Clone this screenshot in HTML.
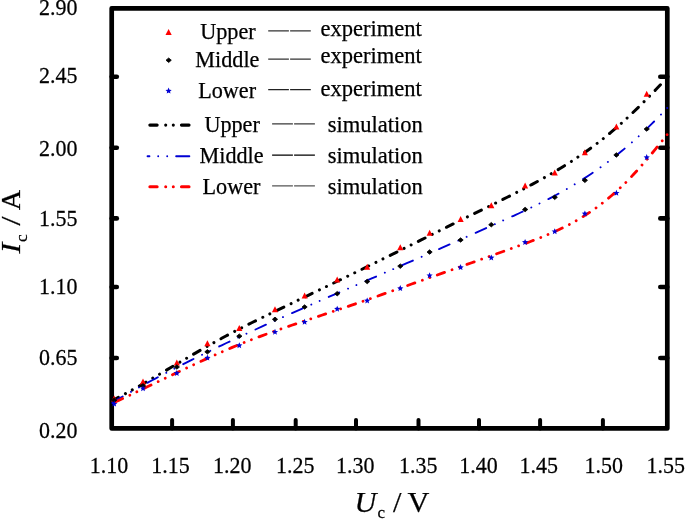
<!DOCTYPE html>
<html><head><meta charset="utf-8"><title>Ic-Uc chart</title>
<style>
html,body{margin:0;padding:0;background:#fff;}
body{width:685px;height:519px;overflow:hidden;}
svg{display:block;will-change:transform;transform:translateZ(0);}
text{font-family:"Liberation Serif",serif;fill:#000;stroke:#000;stroke-width:0.25px;}
</style></head><body>
<svg width="685" height="519" viewBox="0 0 685 519">
<rect width="685" height="519" fill="#fff"/>
<rect x="111.7" y="8.3" width="555.6" height="420.1" fill="none" stroke="#000" stroke-width="4.7" stroke-linejoin="round"/>
<g stroke="#000" stroke-linecap="round" fill="none">
<path d="M111.7 76.7 H116.8" stroke-width="4.6"/>
<path d="M667.3 76.7 H660.3" stroke-width="4.6"/>
<path d="M111.7 147.8 H116.8" stroke-width="4.6"/>
<path d="M667.3 147.8 H660.3" stroke-width="4.6"/>
<path d="M111.7 218.4 H116.8" stroke-width="4.6"/>
<path d="M667.3 218.4 H660.3" stroke-width="4.6"/>
<path d="M111.7 287.0 H116.8" stroke-width="4.6"/>
<path d="M667.3 287.0 H660.3" stroke-width="4.6"/>
<path d="M111.7 358.0 H116.8" stroke-width="4.6"/>
<path d="M667.3 358.0 H660.3" stroke-width="4.6"/>
<path d="M172.1 428.4 V420.0" stroke-width="4.0"/>
<path d="M232.9 428.4 V420.0" stroke-width="4.0"/>
<path d="M295.7 428.4 V420.0" stroke-width="4.0"/>
<path d="M356.0 428.4 V420.0" stroke-width="4.0"/>
<path d="M418.5 428.4 V420.0" stroke-width="4.0"/>
<path d="M479.0 428.4 V420.0" stroke-width="4.0"/>
<path d="M540.1 428.4 V420.0" stroke-width="4.0"/>
<path d="M602.9 428.4 V420.0" stroke-width="4.0"/>
</g>
<g fill="none" stroke-linecap="round" stroke-linejoin="round">
<path d="M111.7 400.91 C113.4 400.04 118.4 397.46 121.7 395.68 C125.0 393.90 128.4 392.07 131.7 390.22 C135.0 388.37 138.4 386.49 141.7 384.58 C145.0 382.67 148.4 380.73 151.7 378.79 C155.0 376.85 158.4 374.88 161.7 372.92 C165.0 370.96 168.4 368.98 171.7 367.01 C175.0 365.04 178.4 363.07 181.7 361.11 C185.0 359.15 188.4 357.19 191.7 355.25 C195.0 353.31 198.4 351.38 201.7 349.47 C205.0 347.56 208.4 345.67 211.7 343.81 C215.0 341.95 218.4 340.11 221.7 338.30 C225.0 336.49 228.4 334.70 231.7 332.95 C235.0 331.19 238.4 329.47 241.7 327.77 C245.0 326.06 248.4 324.39 251.7 322.72 C255.0 321.06 258.4 319.41 261.7 317.78 C265.0 316.15 268.4 314.53 271.7 312.92 C275.0 311.31 278.4 309.71 281.7 308.10 C285.0 306.49 288.4 304.89 291.7 303.28 C295.0 301.67 298.4 300.07 301.7 298.46 C305.0 296.85 308.4 295.25 311.7 293.64 C315.0 292.03 318.4 290.42 321.7 288.81 C325.0 287.20 328.4 285.59 331.7 283.97 C335.0 282.36 338.4 280.74 341.7 279.12 C345.0 277.50 348.4 275.88 351.7 274.25 C355.0 272.62 358.4 271.00 361.7 269.37 C365.0 267.74 368.4 266.12 371.7 264.48 C375.0 262.85 378.4 261.20 381.7 259.56 C385.0 257.92 388.4 256.26 391.7 254.61 C395.0 252.96 398.4 251.30 401.7 249.64 C405.0 247.98 408.4 246.32 411.7 244.66 C415.0 243.00 418.4 241.33 421.7 239.66 C425.0 237.99 428.4 236.32 431.7 234.65 C435.0 232.98 438.4 231.32 441.7 229.66 C445.0 228.00 448.4 226.34 451.7 224.68 C455.0 223.02 458.4 221.37 461.7 219.72 C465.0 218.07 468.4 216.44 471.7 214.80 C475.0 213.16 478.4 211.54 481.7 209.90 C485.0 208.26 488.4 206.62 491.7 204.98 C495.0 203.33 498.4 201.69 501.7 200.03 C505.0 198.37 508.4 196.69 511.7 194.99 C515.0 193.29 518.4 191.59 521.7 189.85 C525.0 188.11 528.4 186.35 531.7 184.56 C535.0 182.77 538.4 180.95 541.7 179.09 C545.0 177.23 548.4 175.35 551.7 173.41 C555.0 171.47 558.4 169.50 561.7 167.46 C565.0 165.42 568.4 163.34 571.7 161.19 C575.0 159.04 578.4 156.83 581.7 154.54 C585.0 152.25 588.4 149.89 591.7 147.44 C595.0 144.99 598.4 142.47 601.7 139.85 C605.0 137.23 608.4 134.51 611.7 131.70 C615.0 128.89 618.4 125.97 621.7 122.98 C625.0 119.99 628.4 116.89 631.7 113.73 C635.0 110.57 638.4 107.31 641.7 104.00 C645.0 100.69 648.3 97.36 651.7 93.89 C655.1 90.42 660.3 84.94 662.0 83.15" stroke="#000" stroke-width="3.0" stroke-dasharray="7.5 8.06 0.01 7.8 0.01 8.06" stroke-dashoffset="0"/>
<path d="M111.7 402.71 C113.4 401.76 118.4 398.88 121.7 397.00 C125.0 395.12 128.4 393.25 131.7 391.40 C135.0 389.55 138.4 387.72 141.7 385.91 C145.0 384.10 148.4 382.31 151.7 380.53 C155.0 378.75 158.4 376.99 161.7 375.24 C165.0 373.49 168.4 371.76 171.7 370.04 C175.0 368.32 178.4 366.62 181.7 364.93 C185.0 363.24 188.4 361.56 191.7 359.90 C195.0 358.24 198.4 356.59 201.7 354.95 C205.0 353.31 208.4 351.69 211.7 350.08 C215.0 348.47 218.4 346.86 221.7 345.27 C225.0 343.68 228.4 342.10 231.7 340.53 C235.0 338.96 238.4 337.41 241.7 335.86 C245.0 334.31 248.4 332.76 251.7 331.23 C255.0 329.70 258.4 328.18 261.7 326.66 C265.0 325.15 268.4 323.64 271.7 322.14 C275.0 320.64 278.4 319.14 281.7 317.65 C285.0 316.16 288.4 314.69 291.7 313.21 C295.0 311.73 298.4 310.26 301.7 308.79 C305.0 307.32 308.4 305.87 311.7 304.41 C315.0 302.95 318.4 301.50 321.7 300.05 C325.0 298.60 328.4 297.14 331.7 295.70 C335.0 294.25 338.4 292.82 341.7 291.38 C345.0 289.94 348.4 288.50 351.7 287.06 C355.0 285.62 358.4 284.19 361.7 282.75 C365.0 281.31 368.4 279.87 371.7 278.43 C375.0 276.99 378.4 275.56 381.7 274.12 C385.0 272.68 388.4 271.23 391.7 269.79 C395.0 268.35 398.4 266.91 401.7 265.46 C405.0 264.01 408.4 262.56 411.7 261.10 C415.0 259.65 418.4 258.19 421.7 256.73 C425.0 255.27 428.4 253.80 431.7 252.33 C435.0 250.86 438.4 249.39 441.7 247.92 C445.0 246.45 448.4 244.97 451.7 243.49 C455.0 242.01 458.4 240.52 461.7 239.04 C465.0 237.56 468.4 236.07 471.7 234.58 C475.0 233.09 478.4 231.59 481.7 230.10 C485.0 228.60 488.4 227.11 491.7 225.61 C495.0 224.11 498.4 222.62 501.7 221.11 C505.0 219.61 508.4 218.10 511.7 216.58 C515.0 215.06 518.4 213.55 521.7 212.00 C525.0 210.45 528.4 208.89 531.7 207.29 C535.0 205.69 538.4 204.07 541.7 202.41 C545.0 200.75 548.4 199.05 551.7 197.30 C555.0 195.55 558.4 193.76 561.7 191.90 C565.0 190.04 568.4 188.14 571.7 186.16 C575.0 184.18 578.4 182.14 581.7 180.03 C585.0 177.92 588.4 175.74 591.7 173.48 C595.0 171.22 598.4 168.90 601.7 166.49 C605.0 164.08 608.4 161.59 611.7 159.02 C615.0 156.45 618.4 153.80 621.7 151.06 C625.0 148.32 628.4 145.49 631.7 142.57 C635.0 139.65 638.4 136.64 641.7 133.54 C645.0 130.44 648.4 127.24 651.7 123.95 C655.0 120.66 659.1 116.49 661.7 113.81 C664.3 111.13 666.4 108.87 667.3 107.88" stroke="#0000d4" stroke-width="1.9" stroke-dasharray="11.5 9.55 0.01 9.1 0.01 9.91" stroke-dashoffset="-1.09"/>
<path d="M111.7 403.57 C113.4 402.80 118.4 400.52 121.7 398.97 C125.0 397.42 128.4 395.84 131.7 394.27 C135.0 392.69 138.4 391.11 141.7 389.52 C145.0 387.93 148.4 386.32 151.7 384.72 C155.0 383.12 158.4 381.51 161.7 379.91 C165.0 378.31 168.4 376.71 171.7 375.11 C175.0 373.51 178.4 371.91 181.7 370.33 C185.0 368.75 188.4 367.16 191.7 365.60 C195.0 364.04 198.4 362.49 201.7 360.95 C205.0 359.41 208.4 357.89 211.7 356.39 C215.0 354.89 218.4 353.41 221.7 351.96 C225.0 350.50 228.4 349.06 231.7 347.66 C235.0 346.26 238.4 344.89 241.7 343.54 C245.0 342.19 248.4 340.88 251.7 339.59 C255.0 338.30 258.4 337.05 261.7 335.82 C265.0 334.59 268.4 333.38 271.7 332.19 C275.0 331.00 278.4 329.84 281.7 328.68 C285.0 327.52 288.4 326.38 291.7 325.25 C295.0 324.12 298.4 323.00 301.7 321.89 C305.0 320.78 308.4 319.68 311.7 318.57 C315.0 317.46 318.4 316.36 321.7 315.25 C325.0 314.14 328.4 313.04 331.7 311.92 C335.0 310.80 338.4 309.68 341.7 308.55 C345.0 307.42 348.4 306.28 351.7 305.13 C355.0 303.98 358.4 302.83 361.7 301.67 C365.0 300.51 368.4 299.35 371.7 298.18 C375.0 297.01 378.4 295.84 381.7 294.67 C385.0 293.50 388.4 292.32 391.7 291.14 C395.0 289.96 398.4 288.77 401.7 287.59 C405.0 286.41 408.4 285.22 411.7 284.04 C415.0 282.86 418.4 281.67 421.7 280.49 C425.0 279.31 428.4 278.12 431.7 276.94 C435.0 275.76 438.4 274.57 441.7 273.39 C445.0 272.21 448.4 271.02 451.7 269.84 C455.0 268.66 458.4 267.48 461.7 266.29 C465.0 265.11 468.4 263.92 471.7 262.73 C475.0 261.54 478.4 260.35 481.7 259.16 C485.0 257.97 488.4 256.78 491.7 255.58 C495.0 254.38 498.4 253.18 501.7 251.98 C505.0 250.78 508.4 249.58 511.7 248.37 C515.0 247.16 518.4 245.95 521.7 244.72 C525.0 243.49 528.4 242.28 531.7 241.01 C535.0 239.74 538.4 238.47 541.7 237.12 C545.0 235.77 548.4 234.39 551.7 232.93 C555.0 231.47 558.4 229.96 561.7 228.34 C565.0 226.72 568.4 225.03 571.7 223.21 C575.0 221.40 578.4 219.49 581.7 217.45 C585.0 215.41 588.4 213.25 591.7 210.96 C595.0 208.67 598.4 206.25 601.7 203.68 C605.0 201.11 608.4 198.40 611.7 195.53 C615.0 192.66 618.4 189.64 621.7 186.45 C625.0 183.26 628.4 179.89 631.7 176.38 C635.0 172.87 638.4 169.18 641.7 165.40 C645.0 161.62 648.4 157.69 651.7 153.69 C655.0 149.69 659.1 144.63 661.7 141.41 C664.3 138.19 666.4 135.54 667.3 134.36" stroke="#f00" stroke-width="2.8" stroke-dasharray="7.7 7.92 0.01 7.8 0.01 8.03" stroke-dashoffset="-4.32"/>
</g>
<g>
<path d="M114.2 395.6 L117.2 401.6 L111.2 401.6 Z" fill="#f00"/>
<path d="M143.0 378.6 L146.1 384.6 L139.9 384.6 Z" fill="#f00"/>
<path d="M176.8 359.5 L179.9 365.5 L173.8 365.5 Z" fill="#f00"/>
<path d="M207.4 340.2 L210.5 346.2 L204.3 346.2 Z" fill="#f00"/>
<path d="M239.3 325.0 L242.4 331.0 L236.2 331.0 Z" fill="#f00"/>
<path d="M275.0 306.2 L278.1 312.2 L271.9 312.2 Z" fill="#f00"/>
<path d="M304.6 292.6 L307.7 298.6 L301.6 298.6 Z" fill="#f00"/>
<path d="M337.2 276.6 L340.2 282.6 L334.1 282.6 Z" fill="#f00"/>
<path d="M367.2 263.8 L370.2 269.8 L364.1 269.8 Z" fill="#f00"/>
<path d="M400.3 244.3 L403.4 250.3 L397.2 250.3 Z" fill="#f00"/>
<path d="M429.6 229.7 L432.7 235.7 L426.6 235.7 Z" fill="#f00"/>
<path d="M460.6 215.9 L463.7 221.9 L457.6 221.9 Z" fill="#f00"/>
<path d="M491.3 202.2 L494.4 208.2 L488.2 208.2 Z" fill="#f00"/>
<path d="M525.1 182.5 L528.1 188.5 L522.1 188.5 Z" fill="#f00"/>
<path d="M554.7 169.5 L557.8 175.5 L551.7 175.5 Z" fill="#f00"/>
<path d="M584.9 149.2 L587.9 155.2 L581.9 155.2 Z" fill="#f00"/>
<path d="M616.4 123.6 L619.4 129.6 L613.4 129.6 Z" fill="#f00"/>
<path d="M646.7 90.7 L649.8 96.7 L643.7 96.7 Z" fill="#f00"/>
<path d="M111.5 400.2 L114.2 397.9 L116.9 400.2 L114.2 402.4 Z" fill="#000" stroke="#000" stroke-width="0.8" stroke-linejoin="round"/>
<path d="M140.3 385.9 L143.0 383.6 L145.7 385.9 L143.0 388.1 Z" fill="#000" stroke="#000" stroke-width="0.8" stroke-linejoin="round"/>
<path d="M174.2 367.0 L176.8 364.8 L179.5 367.0 L176.8 369.2 Z" fill="#000" stroke="#000" stroke-width="0.8" stroke-linejoin="round"/>
<path d="M204.8 351.8 L207.4 349.6 L210.1 351.8 L207.4 354.1 Z" fill="#000" stroke="#000" stroke-width="0.8" stroke-linejoin="round"/>
<path d="M236.7 336.2 L239.3 333.9 L242.0 336.2 L239.3 338.4 Z" fill="#000" stroke="#000" stroke-width="0.8" stroke-linejoin="round"/>
<path d="M272.4 319.3 L275.0 317.1 L277.6 319.3 L275.0 321.6 Z" fill="#000" stroke="#000" stroke-width="0.8" stroke-linejoin="round"/>
<path d="M302.0 307.0 L304.6 304.8 L307.2 307.0 L304.6 309.2 Z" fill="#000" stroke="#000" stroke-width="0.8" stroke-linejoin="round"/>
<path d="M334.6 293.7 L337.2 291.4 L339.8 293.7 L337.2 295.9 Z" fill="#000" stroke="#000" stroke-width="0.8" stroke-linejoin="round"/>
<path d="M364.6 281.5 L367.2 279.2 L369.8 281.5 L367.2 283.8 Z" fill="#000" stroke="#000" stroke-width="0.8" stroke-linejoin="round"/>
<path d="M397.7 266.1 L400.3 263.9 L402.9 266.1 L400.3 268.4 Z" fill="#000" stroke="#000" stroke-width="0.8" stroke-linejoin="round"/>
<path d="M427.0 252.1 L429.6 249.8 L432.2 252.1 L429.6 254.3 Z" fill="#000" stroke="#000" stroke-width="0.8" stroke-linejoin="round"/>
<path d="M458.0 240.0 L460.6 237.8 L463.2 240.0 L460.6 242.2 Z" fill="#000" stroke="#000" stroke-width="0.8" stroke-linejoin="round"/>
<path d="M488.7 224.7 L491.3 222.4 L493.9 224.7 L491.3 226.9 Z" fill="#000" stroke="#000" stroke-width="0.8" stroke-linejoin="round"/>
<path d="M522.5 209.5 L525.1 207.2 L527.8 209.5 L525.1 211.8 Z" fill="#000" stroke="#000" stroke-width="0.8" stroke-linejoin="round"/>
<path d="M552.1 197.3 L554.7 195.1 L557.4 197.3 L554.7 199.6 Z" fill="#000" stroke="#000" stroke-width="0.8" stroke-linejoin="round"/>
<path d="M582.2 180.3 L584.9 178.1 L587.5 180.3 L584.9 182.6 Z" fill="#000" stroke="#000" stroke-width="0.8" stroke-linejoin="round"/>
<path d="M613.8 154.9 L616.4 152.7 L619.0 154.9 L616.4 157.2 Z" fill="#000" stroke="#000" stroke-width="0.8" stroke-linejoin="round"/>
<path d="M644.1 129.0 L646.7 126.8 L649.4 129.0 L646.7 131.2 Z" fill="#000" stroke="#000" stroke-width="0.8" stroke-linejoin="round"/>
<path d="M114.2 400.6 L115.1 402.7 L117.3 402.9 L115.6 404.4 L116.1 406.6 L114.2 405.4 L112.3 406.6 L112.8 404.4 L111.1 402.9 L113.3 402.7 Z" fill="#0000d4"/>
<path d="M143.0 385.3 L143.9 387.4 L146.1 387.6 L144.4 389.1 L144.9 391.3 L143.0 390.1 L141.1 391.3 L141.6 389.1 L139.9 387.6 L142.1 387.4 Z" fill="#0000d4"/>
<path d="M176.8 369.9 L177.7 372.0 L179.9 372.2 L178.2 373.7 L178.7 375.9 L176.8 374.7 L174.9 375.9 L175.4 373.7 L173.7 372.2 L175.9 372.0 Z" fill="#0000d4"/>
<path d="M207.4 354.6 L208.3 356.7 L210.5 356.9 L208.8 358.4 L209.3 360.6 L207.4 359.4 L205.5 360.6 L206.0 358.4 L204.3 356.9 L206.5 356.7 Z" fill="#0000d4"/>
<path d="M239.3 342.2 L240.2 344.3 L242.4 344.5 L240.7 346.0 L241.2 348.2 L239.3 347.0 L237.4 348.2 L237.9 346.0 L236.2 344.5 L238.4 344.3 Z" fill="#0000d4"/>
<path d="M275.0 328.8 L275.9 330.9 L278.1 331.1 L276.4 332.6 L276.9 334.8 L275.0 333.6 L273.1 334.8 L273.6 332.6 L271.9 331.1 L274.1 330.9 Z" fill="#0000d4"/>
<path d="M304.6 318.8 L305.5 320.9 L307.7 321.1 L306.0 322.6 L306.5 324.8 L304.6 323.6 L302.7 324.8 L303.2 322.6 L301.5 321.1 L303.7 320.9 Z" fill="#0000d4"/>
<path d="M337.2 305.7 L338.1 307.8 L340.3 308.0 L338.6 309.5 L339.1 311.7 L337.2 310.5 L335.3 311.7 L335.8 309.5 L334.1 308.0 L336.3 307.8 Z" fill="#0000d4"/>
<path d="M367.2 297.5 L368.1 299.6 L370.3 299.8 L368.6 301.3 L369.1 303.5 L367.2 302.3 L365.3 303.5 L365.8 301.3 L364.1 299.8 L366.3 299.6 Z" fill="#0000d4"/>
<path d="M400.3 285.1 L401.2 287.2 L403.4 287.4 L401.7 288.9 L402.2 291.1 L400.3 289.9 L398.4 291.1 L398.9 288.9 L397.2 287.4 L399.4 287.2 Z" fill="#0000d4"/>
<path d="M429.6 272.3 L430.5 274.4 L432.7 274.6 L431.0 276.1 L431.5 278.3 L429.6 277.1 L427.7 278.3 L428.2 276.1 L426.5 274.6 L428.7 274.4 Z" fill="#0000d4"/>
<path d="M460.6 264.1 L461.5 266.2 L463.7 266.4 L462.0 267.9 L462.5 270.1 L460.6 268.9 L458.7 270.1 L459.2 267.9 L457.5 266.4 L459.7 266.2 Z" fill="#0000d4"/>
<path d="M491.3 254.4 L492.2 256.5 L494.4 256.7 L492.7 258.2 L493.2 260.4 L491.3 259.2 L489.4 260.4 L489.9 258.2 L488.2 256.7 L490.4 256.5 Z" fill="#0000d4"/>
<path d="M525.1 238.9 L526.0 241.0 L528.2 241.2 L526.5 242.7 L527.0 244.9 L525.1 243.7 L523.2 244.9 L523.7 242.7 L522.0 241.2 L524.2 241.0 Z" fill="#0000d4"/>
<path d="M554.7 228.3 L555.6 230.4 L557.8 230.6 L556.1 232.1 L556.6 234.3 L554.7 233.1 L552.8 234.3 L553.3 232.1 L551.6 230.6 L553.8 230.4 Z" fill="#0000d4"/>
<path d="M584.9 210.4 L585.8 212.5 L588.0 212.7 L586.3 214.2 L586.8 216.4 L584.9 215.2 L583.0 216.4 L583.5 214.2 L581.8 212.7 L584.0 212.5 Z" fill="#0000d4"/>
<path d="M616.4 189.8 L617.3 191.9 L619.5 192.1 L617.8 193.6 L618.3 195.8 L616.4 194.6 L614.5 195.8 L615.0 193.6 L613.3 192.1 L615.5 191.9 Z" fill="#0000d4"/>
<path d="M646.7 154.1 L647.6 156.2 L649.8 156.4 L648.1 157.9 L648.6 160.1 L646.7 158.9 L644.8 160.1 L645.3 157.9 L643.6 156.4 L645.8 156.2 Z" fill="#0000d4"/>
</g>
<text transform="translate(77.60,15.20) scale(0.9483,1)" font-size="23.2px" text-anchor="end">2.90</text>
<text transform="translate(77.60,83.20) scale(0.9483,1)" font-size="23.2px" text-anchor="end">2.45</text>
<text transform="translate(77.60,156.20) scale(0.9483,1)" font-size="23.2px" text-anchor="end">2.00</text>
<text transform="translate(77.60,226.20) scale(0.9483,1)" font-size="23.2px" text-anchor="end">1.55</text>
<text transform="translate(77.60,294.10) scale(0.9483,1)" font-size="23.2px" text-anchor="end">1.10</text>
<text transform="translate(77.60,365.20) scale(0.9483,1)" font-size="23.2px" text-anchor="end">0.65</text>
<text transform="translate(77.60,438.20) scale(0.9483,1)" font-size="23.2px" text-anchor="end">0.20</text>
<text transform="translate(108.95,472.80) scale(0.9483,1)" font-size="23.2px" text-anchor="middle">1.10</text>
<text transform="translate(170.50,472.80) scale(0.9483,1)" font-size="23.2px" text-anchor="middle">1.15</text>
<text transform="translate(232.25,472.80) scale(0.9483,1)" font-size="23.2px" text-anchor="middle">1.20</text>
<text transform="translate(295.15,472.80) scale(0.9483,1)" font-size="23.2px" text-anchor="middle">1.25</text>
<text transform="translate(355.35,472.80) scale(0.9483,1)" font-size="23.2px" text-anchor="middle">1.30</text>
<text transform="translate(418.25,472.80) scale(0.9483,1)" font-size="23.2px" text-anchor="middle">1.35</text>
<text transform="translate(478.40,472.80) scale(0.9483,1)" font-size="23.2px" text-anchor="middle">1.40</text>
<text transform="translate(538.85,472.80) scale(0.9483,1)" font-size="23.2px" text-anchor="middle">1.45</text>
<text transform="translate(603.80,472.80) scale(0.9483,1)" font-size="23.2px" text-anchor="middle">1.50</text>
<text transform="translate(665.70,472.80) scale(0.9483,1)" font-size="23.2px" text-anchor="middle">1.55</text>
<text x="354.6" y="511.8" font-size="30.3px" font-style="italic">U</text>
<text transform="translate(377.4,518.4) scale(1.06,1)" font-size="16px">c</text>
<text x="392.9" y="511.8" font-size="30.3px">/</text>
<text x="407.6" y="511.8" font-size="30.3px">V</text>
<text transform="translate(19.9,253.6) rotate(-90) scale(1.14,1)" font-size="28.3px" font-style="italic">I</text>
<text transform="translate(27.2,241.9) rotate(-90) scale(1.1,1)" font-size="15.8px">c</text>
<text transform="translate(19.9,225.4) rotate(-90) scale(1.15,1)" font-size="28.3px">/</text>
<text transform="translate(19.9,210.3) rotate(-90)" font-size="28.3px">A</text>
<g font-size="22.2px">
<path d="M168.6 28.9 L171.7 34.9 L165.5 34.9 Z" fill="#f00"/>
<path d="M166.0 60.2 L168.7 58.0 L171.3 60.2 L168.7 62.5 Z" fill="#000" stroke="#000" stroke-width="0.8" stroke-linejoin="round"/>
<path d="M168.6 87.6 L169.5 89.7 L171.7 89.9 L170.0 91.4 L170.5 93.6 L168.6 92.4 L166.7 93.6 L167.2 91.4 L165.5 89.9 L167.7 89.7 Z" fill="#0000d4"/>
<text x="200.2" y="39.3">Upper</text>
<text x="195.3" y="67.1">Middle</text>
<text x="198.2" y="98.1">Lower</text>
<path d="M268.2 30.90 H288.9 M290.1 30.90 H310.8" stroke="#333" stroke-width="1.2" fill="none"/>
<path d="M268.2 59.20 H288.9 M290.1 59.20 H310.8" stroke="#333" stroke-width="1.2" fill="none"/>
<path d="M268.2 89.65 H288.9 M290.1 89.65 H310.8" stroke="#222" stroke-width="1.4" fill="none"/>
<text x="320.4" y="36.1" font-size="22.55px">experiment</text>
<text x="320.4" y="63.3" font-size="22.55px">experiment</text>
<text x="320.4" y="95.6" font-size="22.55px">experiment</text>
<g fill="none" stroke-linecap="round">
<path d="M149.85 125.1 H195" stroke="#000" stroke-width="3.1" stroke-dasharray="7.3 8.55 0.01 7.59 0.01 8.14 7.6 50"/>
<path d="M147.55 156.3 H195" stroke="#0000d4" stroke-width="1.9" stroke-dasharray="1.9 8.75 0.01 8.99 0.01 8.94 13.2 50"/>
<path d="M149.85 186.8 H195" stroke="#f00" stroke-width="3.0" stroke-dasharray="7.3 8.55 0.01 7.59 0.01 8.14 7.6 50"/>
</g>
<text x="204.4" y="132.3">Upper</text>
<text x="199.5" y="163.3">Middle</text>
<text x="202.5" y="194.3">Lower</text>
<path d="M272.1 123.90 H292.9 M294.1 123.90 H314.9" stroke="#3a3a3a" stroke-width="1.2" fill="none"/>
<path d="M272.1 155.20 H292.9 M294.1 155.20 H314.9" stroke="#000" stroke-width="1.3" fill="none"/>
<path d="M272.1 185.90 H292.9 M294.1 185.90 H314.9" stroke="#555" stroke-width="1.4" fill="none"/>
<text x="327.8" y="132.3" font-size="22.5px">simulation</text>
<text x="327.8" y="163.3" font-size="22.5px">simulation</text>
<text x="327.8" y="193.8" font-size="22.5px">simulation</text>
</g>
</svg>
</body></html>
